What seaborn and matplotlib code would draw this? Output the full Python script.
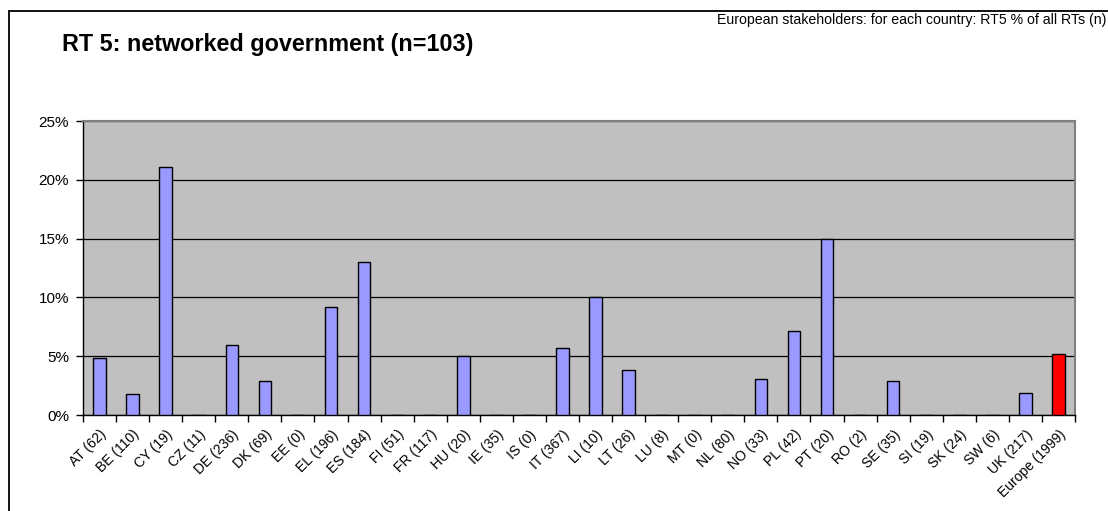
import matplotlib
matplotlib.use("Agg")
import matplotlib.pyplot as plt
from matplotlib.patches import Rectangle
from matplotlib.ticker import FuncFormatter, FixedLocator
import seaborn as sns
import pandas as pd

# Country labels with number of responses in brackets
countries = ["AT (62)", "BE (110)", "CY (19)", "CZ (11)", "DE (236)", "DK (69)",
             "EE (0)", "EL (196)", "ES (184)", "FI (51)", "FR (117)", "HU (20)",
             "IE (35)", "IS (0)", "IT (367)", "LI (10)", "LT (26)", "LU (8)",
             "MT (0)", "NL (80)", "NO (33)", "PL (42)", "PT (20)", "RO (2)",
             "SE (35)", "SI (19)", "SK (24)", "SW (6)", "UK (217)", "Europe (1999)"]

# RT5 share of all RTs per country, in percent
share_pct = [4.84, 1.82, 21.05, 0.0, 5.93, 2.90,
             0.0, 9.18, 13.04, 0.0, 0.0, 5.00,
             0.0, 0.0, 5.72, 10.00, 3.85, 0.0,
             0.0, 0.0, 3.03, 7.14, 15.00, 0.0,
             2.86, 0.0, 0.0, 0.0, 1.84, 5.15]

group = ["country"] * (len(countries) - 1) + ["europe"]

df = pd.DataFrame({"country": countries, "share": share_pct, "group": group})

sns.set_style("white")
plt.rcParams["font.family"] = ["Liberation Sans", "DejaVu Sans"]
plt.rcParams["text.color"] = "black"
plt.rcParams["xtick.color"] = "black"
plt.rcParams["ytick.color"] = "black"
plt.rcParams["xtick.labelcolor"] = "black"
plt.rcParams["ytick.labelcolor"] = "black"

fig = plt.figure(figsize=(11.08, 5.11), dpi=100)
ax = fig.add_axes([83 / 1108, 1 - 415 / 511, (1075 - 83) / 1108, (415 - 121) / 511])
ax.set_facecolor("#C0C0C0")

sns.barplot(data=df, x="country", y="share", hue="group",
            palette={"country": "#9999FF", "europe": "#FF0000"},
            saturation=1, width=0.38, dodge=False, edgecolor="black",
            linewidth=1, legend=False, ax=ax, zorder=3)

ax.set_xlim(-0.5, len(countries) - 0.5)
ax.set_ylim(0, 25)
ax.set_yticks([0, 5, 10, 15, 20, 25])
ax.yaxis.set_major_formatter(FuncFormatter(lambda v, p: f"{v:.0f}%"))
ax.yaxis.grid(True, color="black", linewidth=0.9, zorder=1)
ax.set_axisbelow(True)

# Category labels centred on bars, tick marks on category boundaries
ax.set_xticks(range(len(countries)))
ax.set_xticklabels(countries, rotation=45, ha="right", rotation_mode="anchor",
                   fontsize=10, color="black")
ax.tick_params(axis="x", which="major", length=0, pad=9)
ax.xaxis.set_minor_locator(FixedLocator([i - 0.5 for i in range(len(countries) + 1)]))
ax.tick_params(axis="x", which="minor", length=5, width=1, color="black",
               direction="out", bottom=True)
ax.tick_params(axis="y", length=5, width=1, color="black", direction="out",
               left=True, labelsize=11, pad=5, labelcolor="black")

ax.set_xlabel("")
ax.set_ylabel("")

for side in ("left", "bottom"):
    ax.spines[side].set_color("black")
    ax.spines[side].set_linewidth(1)
for side in ("top", "right"):
    ax.spines[side].set_visible(True)
    ax.spines[side].set_color("#808080")
    ax.spines[side].set_linewidth(1.5)

fig.text(62 / 1108, 1 - 44 / 511, "RT 5: networked government (n=103)",
         fontsize=16.8, fontweight="bold", ha="left", va="center", color="black")
fig.text(1106 / 1108, 1 - 20 / 511,
         "European stakeholders: for each country: RT5 % of all RTs (n)",
         fontsize=10.2, ha="right", va="center", color="black")

# Chart frame
fig.patches.append(Rectangle((8.5 / 1108, -0.1), 1.2, 1 - 10.5 / 511 + 0.1,
                             transform=fig.transFigure, fill=False,
                             edgecolor="black", linewidth=1.3))

fig.savefig("out.png", dpi=100)
